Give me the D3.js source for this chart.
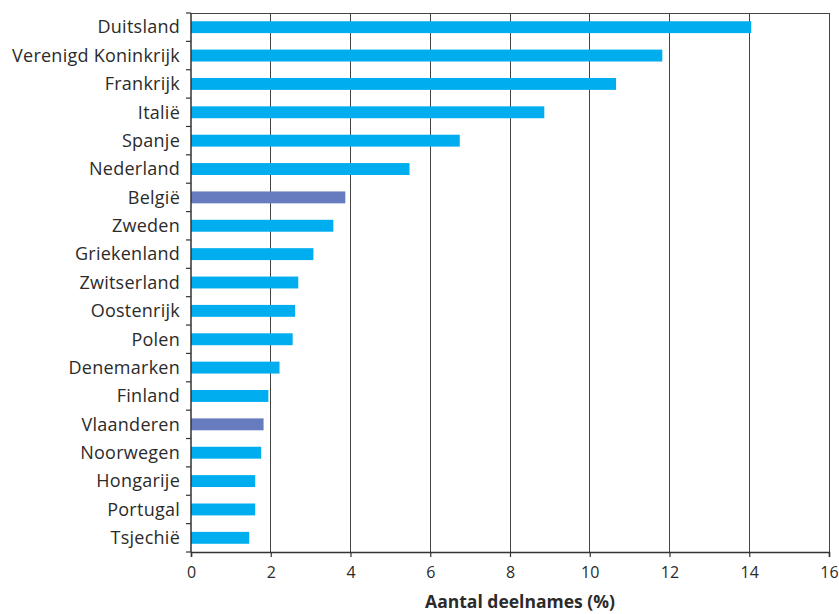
<!DOCTYPE html>
<html><head><meta charset="utf-8">
<script src="https://cdn.jsdelivr.net/npm/d3@7"></script>
<style>body{margin:0;background:#fff}svg{display:block}</style>
</head><body>
<script>
const countries = ["Duitsland","Verenigd Koninkrijk","Frankrijk","Italië","Spanje","Nederland","België","Zweden","Griekenland","Zwitserland","Oostenrijk","Polen","Denemarken","Finland","Vlaanderen","Noorwegen","Hongarije","Portugal","Tsjechië"];
const values = [14.05,11.82,10.66,8.86,6.74,5.48,3.87,3.57,3.07,2.69,2.61,2.55,2.22,1.94,1.82,1.76,1.61,1.61,1.46];
const highlighted = ["België","Vlaanderen"];
const xTicks = [0,2,4,6,8,10,12,14,16];
const xTitle = "Aantal deelnames (%)";

const W = 839, H = 614;
const m = {left:191, right:10, top:13, bottom:62};
const svg = d3.select("body").append("svg").attr("width",W).attr("height",H);
const x = d3.scaleLinear().domain([0,16]).range([m.left, W-m.right]);
const y = d3.scaleBand().domain(countries).range([m.top, H-m.bottom]).paddingInner(0.58).paddingOuter(0.29);
const yTicks = d3.scaleBand().domain(countries).range([m.top, H-m.bottom]);
const font = "'Open Sans', Lato, sans-serif";

// gridlines
svg.append("g").selectAll("line").data(xTicks.slice(1)).join("line")
  .attr("x1",d=>x(d)).attr("x2",d=>x(d)).attr("y1",m.top).attr("y2",H-m.bottom)
  .attr("stroke","#444").attr("stroke-width",1).attr("shape-rendering","crispEdges");
// top border
svg.append("line").attr("x1",m.left).attr("x2",W-m.right).attr("y1",m.top).attr("y2",m.top)
  .attr("stroke","#444").attr("shape-rendering","crispEdges");

// bars
svg.append("g").selectAll("rect").data(countries).join("rect")
  .attr("x",x(0)).attr("y",d=>y(d)).attr("height",y.bandwidth())
  .attr("width",(d,i)=>x(values[i])-x(0))
  .attr("fill",d=>highlighted.includes(d)?"#677CBE":"#00AEEF");

// y axis
const yAxis = svg.append("g").attr("transform",`translate(${m.left},0)`);
yAxis.append("line").attr("x1",0).attr("x2",0).attr("y1",m.top).attr("y2",H-m.bottom)
  .attr("stroke","#333").attr("stroke-width",1.5);
const bounds = countries.map(c=>yTicks(c)).concat([H-m.bottom]);
yAxis.selectAll("line.t").data(bounds).join("line").attr("class","t")
  .attr("x1",-5).attr("x2",0).attr("y1",d=>d).attr("y2",d=>d).attr("stroke","#333").attr("stroke-width",1.2);
yAxis.selectAll("text").data(countries).join("text")
  .attr("x",-11).attr("y",d=>yTicks(d)+yTicks.bandwidth()/2).attr("dy","0.35em")
  .attr("text-anchor","end").attr("font-family",font).attr("font-size",18).attr("letter-spacing",0.25).attr("fill","#2b2b2b")
  .text(d=>d);

// x axis
const xAxis = svg.append("g").attr("transform",`translate(0,${H-m.bottom})`)
  .call(d3.axisBottom(x).tickValues(xTicks).tickSize(5).tickPadding(10).tickFormat(d3.format("d")));
xAxis.select(".domain").attr("stroke","#333").attr("stroke-width",1.5);
xAxis.selectAll(".tick line").attr("stroke","#333").attr("stroke-width",1.2);
xAxis.selectAll("text").attr("font-family",font).attr("font-size",16).attr("fill","#2b2b2b");

svg.append("text").attr("x",(x(0)+x(16))/2+10).attr("y",H-6)
  .attr("text-anchor","middle").attr("font-family",font).attr("font-size",17.5).attr("font-weight","bold")
  .attr("fill","#2b2b2b").text(xTitle);
</script>
</body></html>
